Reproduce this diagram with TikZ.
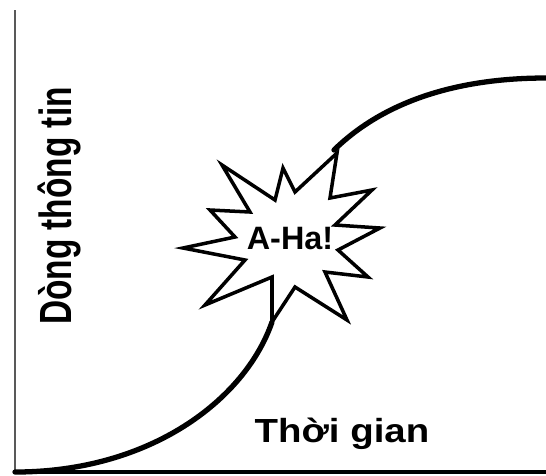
\documentclass[tikz,border=0pt]{standalone}
\usepackage{fontspec}
\setmainfont{Liberation Sans}
\tikzset{
  curve/.style={line width=1.5pt,line cap=round},
  label/.style={font=\bfseries\fontsize{9.5}{11}\selectfont,inner sep=0pt}
}
\begin{document}
\begin{tikzpicture}[x=0.01cm,y=-0.01cm]
            \useasboundingbox (0,0) rectangle (546,475);
            \coordinate (O) at (15,472);
            \coordinate (Y) at (15,10);
            \coordinate (X) at (546,472);
            \coordinate (S) at (272,322);
            \coordinate (T) at (334,150);
            \coordinate (E) at (546,78);
            \draw[gray!70!black,line width=.6pt] (O)--(Y);
            \draw[line width=1pt] (O)--(X);
            \draw[curve] (O) .. controls (150,472) and (245,400) .. (S);
            \draw[curve] (T) .. controls (380,105) and (450,78) .. (E);
            \draw[line width=1pt,fill=white] (222,165)--(275,200)--(283,168)
             --(295,192)--(337,153)--(330,198)--(372,190)--(335,225)
             --(380,228)--(338,250)--(368,277)--(325,272)--(347,320)
             --(295,287)--(272,322)--(272,277)--(205,305)--(245,260)
             --(183,248)--(235,237)--(210,210)--(250,212)--cycle;
            \draw (290,239) node[label,font=\bfseries\fontsize{9.2}{10}\selectfont] (A) {A-Ha!};
            \draw (342,434) node[label,xscale=1.15] (t) {Thời gian};
            \draw (59,206) node[label,xscale=1.35,rotate=90] (d) {Dòng thông tin};
            \end{tikzpicture}
\end{document}
